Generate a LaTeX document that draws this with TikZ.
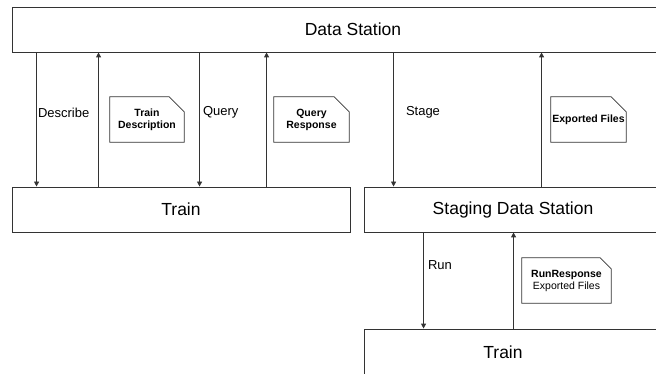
\documentclass[tikz,border=0pt]{standalone}
\usepackage{fontspec}
\setmainfont{Liberation Sans}
\usetikzlibrary{positioning,arrows.meta}

% outline of a note with a cut top right corner
\newcommand{\dogear}[2]{%
  \draw[noteline] (#1.south west) -- (#1.north west) -- ([xshift=-#2]#1.north east)
    -- ([yshift=-#2]#1.north east) -- (#1.south east) -- cycle;}

\begin{document}
\begin{tikzpicture}[x=1pt, y=-1pt,
    box/.style={draw=black!80, line width=0.9pt, inner sep=0pt, minimum height=45pt, font=\fontsize{17.5}{21}\selectfont},
    boxtext/.style={inner sep=0pt, font=\fontsize{17.5}{21}\selectfont},
    flow/.style={draw=black!80, line width=0.9pt, -{Triangle[length=5pt,width=5pt]}},
    lbl/.style={inner sep=1pt, font=\fontsize{13}{15}\selectfont},
    note/.style={inner sep=0pt, minimum height=45pt, align=center, font=\fontsize{10.5}{12}\selectfont},
    noteline/.style={draw=black!80, line width=0.8pt}]

    \useasboundingbox (0,0) rectangle (656,374);
    \clip (0,0) rectangle (656,374);

    % Boxes
    \node[box, minimum width=682pt] (ds) at (353,29.5) {Data Station};
    \node[box, minimum width=338pt] (train) at (181,209.5) {Train};
    \node[box, minimum width=298pt] (staging) at (513,209.5) {Staging Data Station};
    \node[box, minimum width=342pt, minimum height=61pt] (runner) at (535,359.5) {};
    \node[boxtext] (runnertext) at (503,352) {Train};

    % Data Station <-> Train
    \draw[flow] ([xshift=25pt]ds.south west) -- node[lbl, right, pos=0.45] (describe) {Describe} ([xshift=25pt]train.north west);
    \draw[flow] ([xshift=87pt]train.north west) -- ([xshift=87pt]ds.south west);
    \draw[flow] ([xshift=188pt]ds.south west) -- node[lbl, right, pos=0.45, xshift=2pt] (query) {Query} ([xshift=188pt]train.north west);
    \draw[flow] ([xshift=255pt]train.north west) -- ([xshift=255pt]ds.south west);

    % Data Station <-> Staging Data Station
    \draw[flow] ([xshift=382pt]ds.south west) -- node[lbl, right, pos=0.45, xshift=11pt] (stage) {Stage} ([xshift=30pt]staging.north west);
    \draw[flow] ([xshift=178pt]staging.north west) -- ([xshift=530pt]ds.south west);

    % Staging Data Station <-> Train
    \draw[flow] ([xshift=60pt]staging.south west) -- node[lbl, right, pos=0.34, xshift=3pt] (run) {Run} ([xshift=60pt]runner.north west);
    \draw[flow] ([xshift=150pt]runner.north west) -- ([xshift=150pt]staging.south west);

    % Notes
    \node[note, minimum width=74pt] (tdesc) at (147,119.5) {\textbf{Train}\\\textbf{Description}};
    \dogear{tdesc}{15pt}
    \node[note, minimum width=75pt] (qresp) at (311.5,119.5) {\textbf{Query}\\\textbf{Response}};
    \dogear{qresp}{15pt}
    \node[note, minimum width=75pt] (expfiles) at (588.5,119.5) {\textbf{Exported Files}};
    \dogear{expfiles}{15pt}
    \node[note, minimum width=89pt] (runresp) at (566.5,280.5) {\textbf{RunResponse}\\Exported Files};
    \dogear{runresp}{11pt}
\end{tikzpicture}
\end{document}
